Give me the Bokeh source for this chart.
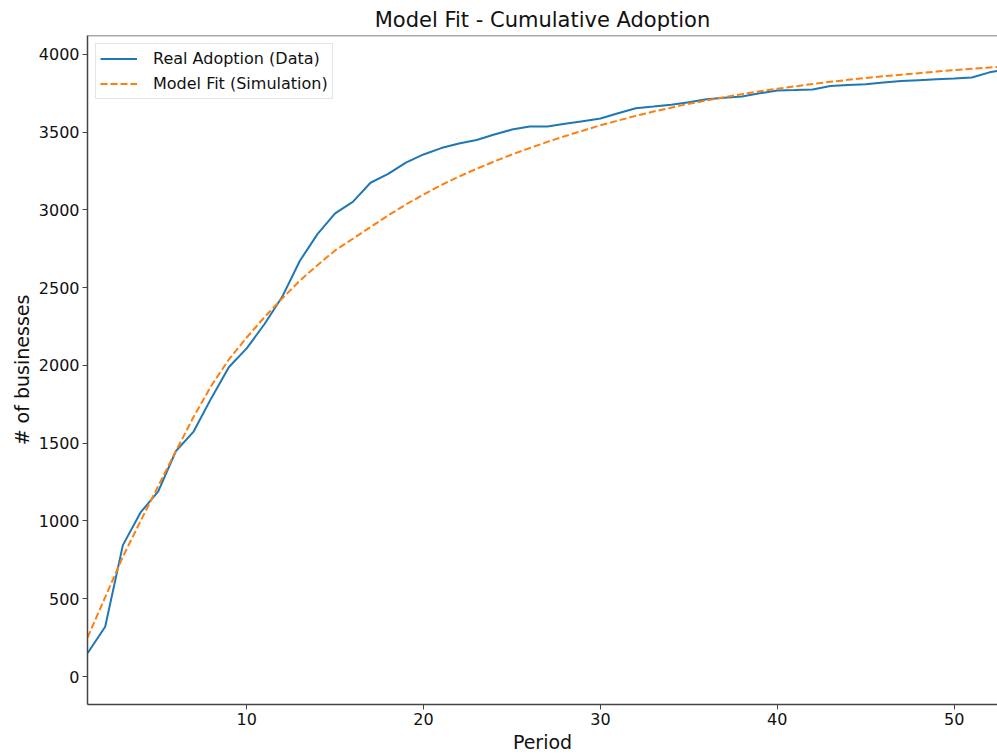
from bokeh.plotting import figure
from bokeh.models import ColumnDataSource, Range1d, Span, Legend, LegendItem, FixedTicker
from bokeh.embed import file_html
from bokeh.resources import INLINE

periods = list(range(1, 54))
real_adoption = [150, 320, 845, 1055, 1190, 1450, 1575, 1790, 1990, 2110,
                 2265, 2440, 2672, 2845, 2978, 3052, 3175, 3232, 3305, 3357,
                 3398, 3428, 3450, 3485, 3517, 3537, 3537, 3554, 3571, 3588,
                 3622, 3654, 3665, 3677, 3693, 3712, 3722, 3730, 3750, 3768,
                 3771, 3775, 3797, 3803, 3808, 3820, 3830, 3835, 3840, 3845,
                 3852, 3885, 3905]
model_fit = [250, 510, 770, 1000, 1225, 1450, 1670, 1870, 2040, 2180,
             2310, 2430, 2545, 2645, 2740, 2815, 2890, 2965, 3035, 3100,
             3160, 3215, 3265, 3312, 3357, 3398, 3438, 3475, 3510, 3545,
             3575, 3605, 3633, 3658, 3683, 3704, 3725, 3745, 3763, 3780,
             3795, 3810, 3824, 3837, 3849, 3860, 3870, 3880, 3890, 3899,
             3908, 3916, 3923]
x_ticks = [10, 20, 30, 40, 50]
y_ticks = [0, 500, 1000, 1500, 2000, 2500, 3000, 3500, 4000]

FONT = "DejaVu Sans"

src = ColumnDataSource(dict(x=periods, real=real_adoption, model=model_fit))

p = figure(width=997, height=755, output_backend="svg", toolbar_location=None,
           x_range=Range1d(1, 52.45), y_range=Range1d(-180, 4122),
           title="Model Fit - Cumulative Adoption",
           min_border_left=87, min_border_right=0, min_border_top=35,
           min_border_bottom=51)

p.title.align = "center"
p.title.text_font = FONT
p.title.text_font_size = "21px"
p.title.text_font_style = "normal"
p.title.text_color = "#111111"
p.title.standoff = 7
p.title.offset = 0

r1 = p.line("x", "real", source=src, line_color="#1f77b4", line_width=2)
r2 = p.line("x", "model", source=src, line_color="#ff7f0e", line_width=2,
            line_dash="7 3")

p.xgrid.visible = False
p.ygrid.visible = False
p.outline_line_color = None
p.background_fill_color = "white"
p.border_fill_color = "white"

top_spine = Span(location=4122, dimension="width", line_color="#555555", line_width=1.5)
p.add_layout(top_spine)

for ax in (p.xaxis[0], p.yaxis[0]):
    ax.axis_line_color = "#444444"
    ax.axis_line_width = 1.5
    ax.major_tick_line_color = "#444444"
    ax.major_tick_out = 5
    ax.major_tick_in = 0
    ax.minor_tick_line_color = None
    ax.major_label_text_font = FONT
    ax.major_label_text_font_size = "16px"
    ax.major_label_text_color = "#111111"
    ax.axis_label_text_font = FONT
    ax.axis_label_text_font_size = "19px"
    ax.axis_label_text_font_style = "normal"
    ax.axis_label_text_color = "#111111"
    ax.major_label_standoff = 3
    ax.axis_label_standoff = 3

p.xaxis.ticker = FixedTicker(ticks=x_ticks)
p.yaxis.ticker = FixedTicker(ticks=y_ticks)
p.xaxis.axis_label = "Period"
p.yaxis.axis_label = "# of businesses"

legend = Legend(items=[LegendItem(label="Real Adoption (Data)", renderers=[r1]),
                       LegendItem(label="Model Fit (Simulation)", renderers=[r2])],
                location="top_left")
legend.margin = 8
legend.padding = 4
legend.spacing = 4
legend.glyph_width = 37
legend.glyph_height = 21
legend.label_standoff = 16
legend.label_text_font = FONT
legend.label_text_font_size = "16px"
legend.label_text_color = "#111111"
legend.border_line_color = "#cccccc"
legend.border_line_width = 1
legend.background_fill_alpha = 0.9
p.add_layout(legend)

open("out.html", "w").write(file_html(p, INLINE))
